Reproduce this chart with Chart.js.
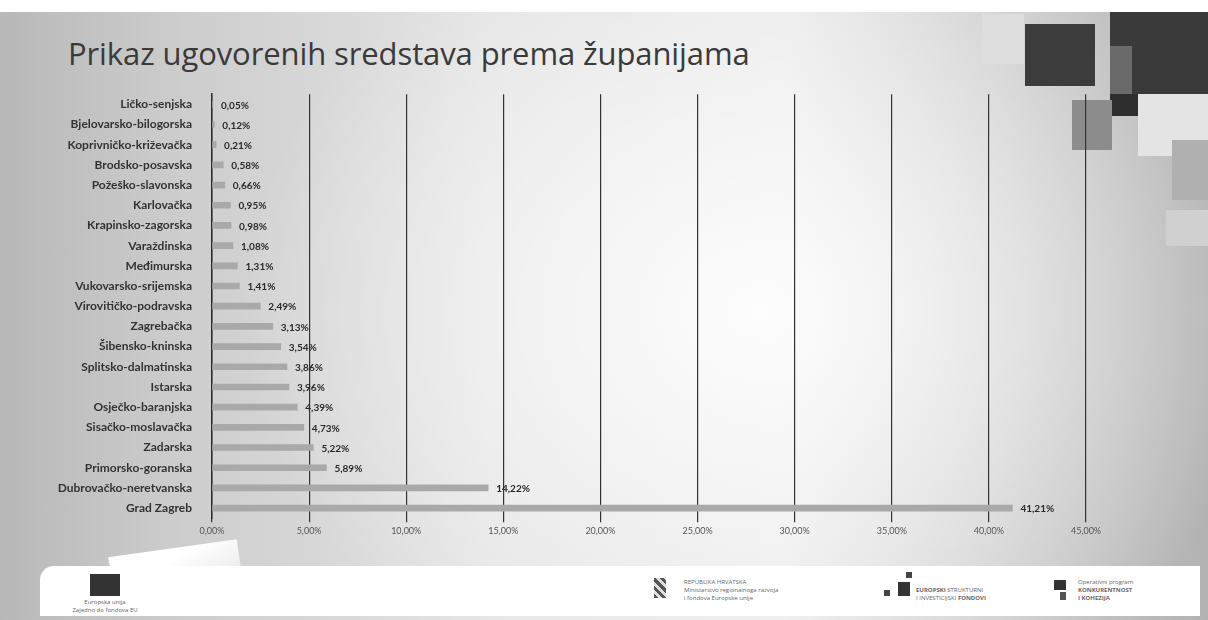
<!DOCTYPE html>
<html>
<head>
<meta charset="utf-8">
<script src="https://cdn.jsdelivr.net/npm/chart.js@4.4.1/dist/chart.umd.min.js"></script>
<style>
  html, body { margin: 0; padding: 0; }
  body {
    width: 1208px; height: 620px; overflow: hidden; position: relative;
    background: #fff;
    font-family: "Open Sans", sans-serif;
  }
  .slide {
    position: absolute; left: 0; top: 12px; width: 1208px; height: 608px;
    background:
      radial-gradient(ellipse 520px 420px at 760px 300px, rgba(255,255,255,0.9), rgba(255,255,255,0) 100%),
      linear-gradient(90deg, #b8b8b8 0%, #cdcdcd 15%, #e4e4e4 40%, #eaeaea 65%, #c6c6c6 88%, #b2b2b2 100%);
  }
  .title {
    position: absolute; left: 68px; top: 32px; font-size: 31px; color: #3a3a3a;
    font-family: "Open Sans", sans-serif; letter-spacing: -0.1px;
  }
  .sq { position: absolute; }
  .footer {
    position: absolute; left: 40px; top: 566px; width: 1160px; height: 50px;
    background: #fff; border-radius: 14px 0 0 0;
  }
  .curl {
    position: absolute; left: 112px; top: 548px; width: 130px; height: 66px;
    background: linear-gradient(160deg, #ffffff 30%, #dcdcdc 100%);
    border-radius: 0 0 0 110px; transform: rotate(-8deg);
  }
  .ft { position: absolute; font-size: 6px; color: #666; line-height: 8px; }
  #wrap { position: absolute; left: 0; top: 75px; width: 1208px; height: 464px; }
</style>
</head>
<body>
<div class="slide"></div>
<div class="sq" style="left:982px;top:14px;width:42px;height:50px;background:#dedede"></div>
<div class="sq" style="left:1025px;top:24px;width:70px;height:62px;background:#3c3c3c"></div>
<div class="sq" style="left:1110px;top:12px;width:98px;height:82px;background:#3a3a3a"></div>
<div class="sq" style="left:1110px;top:46px;width:22px;height:50px;background:#6a6a6a"></div>
<div class="sq" style="left:1110px;top:94px;width:28px;height:22px;background:#2e2e2e"></div>
<div class="sq" style="left:1138px;top:94px;width:70px;height:62px;background:#e4e4e4"></div>
<div class="sq" style="left:1072px;top:100px;width:40px;height:50px;background:#8c8c8c"></div>
<div class="sq" style="left:1172px;top:140px;width:36px;height:60px;background:#b0b0b0"></div>
<div class="sq" style="left:1166px;top:210px;width:42px;height:36px;background:#d0d0d0"></div>
<div class="title">Prikaz ugovorenih sredstava prema županijama</div>
<div class="curl"></div>
<div id="wrap"><canvas id="barChart"></canvas></div>
<div class="footer"></div>
<div class="sq" style="left:90px;top:574px;width:30px;height:22px;background:#333"></div>
<div class="ft" style="left:70px;top:598px;width:70px;text-align:center">Europska unija<br>Zajedno do fondova EU</div>
<div class="sq" style="left:654px;top:578px;width:12px;height:20px;background:repeating-linear-gradient(45deg,#555 0 3px,#ddd 3px 6px)"></div>
<div class="ft" style="left:684px;top:578px;">REPUBLIKA HRVATSKA<br>Ministarstvo regionalnoga razvoja<br>i fondova Europske unije</div>
<div class="sq" style="left:884px;top:590px;width:6px;height:6px;background:#444"></div>
<div class="sq" style="left:898px;top:582px;width:12px;height:14px;background:#333"></div>
<div class="sq" style="left:906px;top:572px;width:6px;height:6px;background:#444"></div>
<div class="ft" style="left:916px;top:586px;"><b>EUROPSKI</b> STRUKTURNI<br>I INVESTICIJSKI <b>FONDOVI</b></div>
<div class="sq" style="left:1054px;top:580px;width:12px;height:10px;background:#333"></div>
<div class="sq" style="left:1060px;top:592px;width:6px;height:8px;background:#555"></div>
<div class="ft" style="left:1078px;top:578px;">Operativni program<br><b>KONKURENTNOST</b><br><b>I KOHEZIJA</b></div>
<script>
const categories = [
  "Ličko-senjska", "Bjelovarsko-bilogorska", "Koprivničko-križevačka", "Brodsko-posavska",
  "Požeško-slavonska", "Karlovačka", "Krapinsko-zagorska", "Varaždinska", "Međimurska",
  "Vukovarsko-srijemska", "Virovitičko-podravska", "Zagrebačka", "Šibensko-kninska",
  "Splitsko-dalmatinska", "Istarska", "Osječko-baranjska", "Sisačko-moslavačka",
  "Zadarska", "Primorsko-goranska", "Dubrovačko-neretvanska", "Grad Zagreb"
];
const shares = [
  0.05, 0.12, 0.21, 0.58, 0.66, 0.95, 0.98, 1.08, 1.31, 1.41, 2.49,
  3.13, 3.54, 3.86, 3.96, 4.39, 4.73, 5.22, 5.89, 14.22, 41.21
];
const xTicks = [0, 5, 10, 15, 20, 25, 30, 35, 40, 45];

const fmt = (v) => v.toFixed(2).replace('.', ',') + '%';

// value text to the right of each bar
const valueLabels = {
  id: 'valueLabels',
  afterDatasetsDraw(chart) {
    const ctx = chart.ctx;
    const meta = chart.getDatasetMeta(0);
    ctx.save();
    ctx.font = 'bold 10px Lato, "Open Sans", sans-serif';
    ctx.fillStyle = '#2a2a2a';
    ctx.textBaseline = 'middle';
    meta.data.forEach((bar, i) => {
      ctx.fillText(fmt(shares[i]), bar.x + 8, bar.y + 1);
    });
    ctx.restore();
  }
};

const chart = new Chart(document.getElementById('barChart').getContext('2d'), {
  type: 'bar',
  data: {
    labels: categories,
    datasets: [{
      data: shares,
      backgroundColor: '#a9a9a9',
      borderWidth: 0,
      barThickness: 6
    }]
  },
  plugins: [valueLabels],
  options: {
    indexAxis: 'y',
    responsive: true,
    maintainAspectRatio: false,
    animation: false,
    layout: { padding: { top: 0, right: 122, bottom: 0, left: 0 } },
    plugins: { legend: { display: false }, tooltip: { enabled: false } },
    scales: {
      x: {
        min: 0,
        max: 45,
        afterBuildTicks: (scale) => { scale.ticks = xTicks.map(v => ({ value: v })); },
        grid: { color: '#333', lineWidth: 1.2, drawTicks: true, tickLength: 4 },
        border: { display: false },
        ticks: {
          callback: (v) => fmt(v),
          color: '#555',
          font: { size: 9, family: 'Lato, "Open Sans", sans-serif' },
          padding: 3,
          maxRotation: 0
        }
      },
      y: {
        afterFit: (scale) => { scale.width = 212; },
        grid: { display: false },
        border: { display: true, color: '#2a2a2a', width: 1.5 },
        ticks: {
          color: '#333',
          font: { size: 12, weight: 'bold', family: 'Lato, "Open Sans", sans-serif' },
          padding: 12,
          autoSkip: false
        }
      }
    }
  }
});
</script>
</body>
</html>
